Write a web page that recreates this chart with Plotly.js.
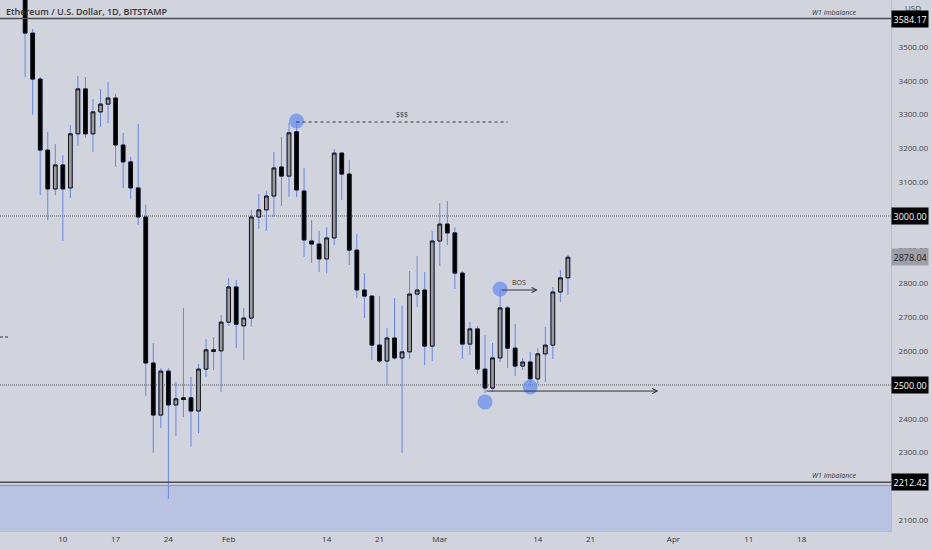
<!DOCTYPE html>
<html>
<head>
<meta charset="utf-8">
<script src="https://cdn.plot.ly/plotly-3.0.1.min.js"></script>
<style>
html,body{margin:0;padding:0;background:#d1d4dc;}
#chart{width:932px;height:550px;}
</style>
</head>
<body>
<div id="chart"></div>
<script>
// ---- Data (ETH/USD daily) ----
const dates = [
 '2022-01-05','2022-01-06','2022-01-07','2022-01-08','2022-01-09','2022-01-10','2022-01-11','2022-01-12','2022-01-13','2022-01-14',
 '2022-01-15','2022-01-16','2022-01-17','2022-01-18','2022-01-19','2022-01-20','2022-01-21','2022-01-22','2022-01-23','2022-01-24',
 '2022-01-25','2022-01-26','2022-01-27','2022-01-28','2022-01-29','2022-01-30','2022-01-31',
 '2022-02-01','2022-02-02','2022-02-03','2022-02-04','2022-02-05','2022-02-06','2022-02-07','2022-02-08','2022-02-09','2022-02-10',
 '2022-02-11','2022-02-12','2022-02-13','2022-02-14','2022-02-15','2022-02-16','2022-02-17','2022-02-18','2022-02-19','2022-02-20',
 '2022-02-21','2022-02-22','2022-02-23','2022-02-24','2022-02-25','2022-02-26','2022-02-27','2022-02-28',
 '2022-03-01','2022-03-02','2022-03-03','2022-03-04','2022-03-05','2022-03-06','2022-03-07','2022-03-08','2022-03-09','2022-03-10',
 '2022-03-11','2022-03-12','2022-03-13','2022-03-14','2022-03-15','2022-03-16','2022-03-17','2022-03-18'
];
const open = [
 3780,3541,3405,3195,3080,3151,3083,3243,3376,3243,3308,3331,3349,3210,3160,3083,2997,2565,2411,2541,2441,2462,2462,2423,2547,2604,2601,
 2686,2790,2675,2698,2997,3018,3059,3145,3118,3249,3074,2926,2917,2873,2935,3186,3124,2899,2781,2763,2618,2571,2639,2580,2598,2769,2781,2615,
 2926,2976,2950,2831,2621,2666,2547,2491,2580,2728,2609,2556,2568,2518,2592,2618,2775,2817
];
const high = [
 3850,3553,3411,3249,3213,3180,3269,3414,3411,3346,3376,3396,3361,3246,3175,3272,3033,2624,2550,2550,2509,2728,2524,2562,2636,2642,2707,
 2817,2811,2728,3018,3065,3074,3189,3234,3275,3281,3142,2988,2956,2967,3198,3189,3166,2947,2831,2765,2763,2669,2757,2734,2837,2882,2834,2956,
 3038,3044,2967,2837,2686,2675,2648,2624,2781,2734,2680,2580,2598,2609,2672,2790,2840,2885
];
const low = [
 3411,3299,3062,2988,3062,2926,3053,3207,3231,3189,3263,3275,3145,3083,3050,2973,2467,2299,2373,2163,2349,2405,2317,2358,2524,2544,2479,
 2675,2609,2574,2672,2962,2956,2997,3030,3056,3056,2879,2861,2834,2831,2914,3047,2855,2757,2698,2574,2565,2500,2575,2299,2577,2731,2559,2571,
 2852,2914,2784,2577,2589,2533,2476,2479,2568,2550,2527,2544,2494,2503,2509,2577,2746,2766
];
const close = [
 3541,3405,3195,3080,3151,3080,3243,3376,3243,3308,3331,3349,3210,3160,3083,2997,2565,2411,2541,2441,2459,2457,2423,2547,2604,2599,2686,
 2790,2680,2698,2997,3018,3059,3142,3118,3246,3077,2929,2917,2873,2935,3186,3124,2899,2781,2763,2618,2571,2639,2580,2598,2769,2781,2615,2926,
 2976,2950,2831,2621,2666,2547,2491,2580,2728,2609,2556,2568,2518,2592,2618,2775,2817,2878.04
];

// axis ticks (3000, 2500 and 2200 are covered by the level price boxes)
const xTickVals  = ['2022-01-10','2022-01-17','2022-01-24','2022-02-01','2022-02-14','2022-02-21','2022-03-01','2022-03-14','2022-03-21','2022-04-01','2022-04-11','2022-04-18'];
const xTickText  = ['10','17','24','Feb','14','21','Mar','14','21','Apr','11','18'];
const yTickVals  = [2100,2300,2400,2600,2700,2800,2900,3100,3200,3300,3400,3500];

// drawn levels / annotations
const w1Top = 3584.17;
const w1Bottom = 2212.42;
const w1BottomInner = 2203;
const roundLevels = [3000, 2500];
const lastPrice = 2878.04;
const liqLevel = 3278, liqStart = '2022-02-10', liqEnd = '2022-03-10', liqLabelX = '2022-02-24';
const bosLevel = 2781, bosStart = '2022-03-09', bosEnd = '2022-03-14', bosLabelX = '2022-03-11 12:00';
const lowLine = 2482, lowStart = '2022-03-07', lowEnd = '2022-03-30';
const swingX = ['2022-02-10','2022-03-07','2022-03-09','2022-03-13'];
const swingY = [3281, 2450, 2784, 2494];
const leftMark = 2642;

const xRange = ['2022-01-01 16:00','2022-04-29 20:30'];
const yRange = [2068, 3639];

// ---- traces ----
const bodyHigh = open.map((o,i)=>Math.max(o,close[i]));
const bodyLow  = open.map((o,i)=>Math.min(o,close[i]));
const wickBlue = '#6286ee';

const wicks = {
  type:'candlestick', x:dates, open:open, high:high, low:low, close:close,
  increasing:{line:{color:wickBlue,width:1}, fillcolor:'rgba(0,0,0,0)'},
  decreasing:{line:{color:wickBlue,width:1}, fillcolor:'rgba(0,0,0,0)'},
  whiskerwidth:0, hoverinfo:'skip', showlegend:false
};
const bodies = {
  type:'candlestick', x:dates, open:open, high:bodyHigh, low:bodyLow, close:close,
  increasing:{line:{color:'#111111',width:1}, fillcolor:'#9b9b9e'},
  decreasing:{line:{color:'#111111',width:1}, fillcolor:'#000000'},
  whiskerwidth:0, hoverinfo:'skip', showlegend:false
};
const swings = {
  type:'scatter', mode:'markers', x:swingX, y:swingY,
  marker:{size:15, color:'rgba(100,140,242,0.72)', line:{width:0}},
  hoverinfo:'skip', showlegend:false, cliponaxis:false
};

// ---- shapes ----
const shapes = [];
shapes.push({type:'rect', xref:'paper', x0:0, x1:1, yref:'y', y0:yRange[0], y1:w1BottomInner, fillcolor:'#b8c3e2', line:{width:0}, layer:'below'});
shapes.push({type:'line', xref:'paper', x0:0, x1:1, yref:'y', y0:w1BottomInner, y1:w1BottomInner, line:{color:'#8c9099', width:1}});
shapes.push({type:'line', xref:'paper', x0:0, x1:1, yref:'y', y0:w1Bottom, y1:w1Bottom, line:{color:'#4a4c52', width:1.5}});
shapes.push({type:'line', xref:'paper', x0:0, x1:1, yref:'y', y0:w1Top, y1:w1Top, line:{color:'#4a4c52', width:1.5}});
roundLevels.forEach(v=>shapes.push({type:'line', xref:'paper', x0:0, x1:1, yref:'y', y0:v, y1:v, line:{color:'#555', width:1, dash:'1px,1px'}, layer:'below'}));
shapes.push({type:'line', xref:'x', x0:liqStart, x1:liqEnd, yref:'y', y0:liqLevel, y1:liqLevel, line:{color:'#333', width:1, dash:'3px,3px'}});
shapes.push({type:'line', xref:'paper', x0:0, x1:0.011, yref:'y', y0:leftMark, y1:leftMark, line:{color:'#333', width:1, dash:'3px,2px'}});

// ---- annotations ----
const ann = [];
const f = 'Open Sans, Liberation Sans, sans-serif';
ann.push({xref:'paper', yref:'paper', x:0, y:1, xanchor:'left', yanchor:'middle', xshift:4, yshift:-11,
  text:'Ethereum / U.S. Dollar, 1D, BITSTAMP', showarrow:false, font:{family:f, size:9, color:'#333', weight:600}});
ann.push({xref:'paper', yref:'paper', x:1, y:1, xanchor:'left', yanchor:'middle', xshift:12, yshift:-7,
  text:'USD', showarrow:false, font:{family:f, size:8, color:'#444'}});
[w1Top, w1Bottom].forEach(v=>ann.push({xref:'paper', yref:'y', x:0.963, y:v, xanchor:'right', yanchor:'bottom', yshift:0,
  text:'W1 imbalance', showarrow:false, font:{family:f, size:7, color:'#333', style:'italic'}}));
[w1Top].concat(roundLevels, [w1Bottom]).forEach(v=>ann.push({xref:'paper', yref:'y', x:1, y:v, xanchor:'left', yanchor:'middle',
  text:v.toFixed(2), showarrow:false, bgcolor:'#000', borderpad:1.5, font:{family:f, size:9, color:'#fff'}}));
ann.push({xref:'paper', yref:'y', x:1, y:lastPrice, xanchor:'left', yanchor:'middle',
  text:lastPrice.toFixed(2), showarrow:false, bgcolor:'#9c9fa6', borderpad:1.5, font:{family:f, size:9, color:'#222'}});
ann.push({xref:'x', yref:'y', x:liqLabelX, y:liqLevel, yanchor:'bottom', yshift:1, text:'$$$', showarrow:false, font:{family:f, size:7, color:'#333'}});
ann.push({xref:'x', yref:'y', x:bosLabelX, y:bosLevel, yanchor:'bottom', yshift:1, text:'BOS', showarrow:false, font:{family:f, size:7, color:'#333'}});
ann.push({xref:'x', yref:'y', x:bosEnd, y:bosLevel, axref:'x', ayref:'y', ax:bosStart, ay:bosLevel, text:'', showarrow:true,
  arrowhead:5, arrowsize:1, arrowwidth:1, arrowcolor:'#333', standoff:0, startstandoff:0});
ann.push({xref:'x', yref:'y', x:lowEnd, y:lowLine, axref:'x', ayref:'y', ax:lowStart, ay:lowLine, text:'', showarrow:true,
  arrowhead:5, arrowsize:1, arrowwidth:1, arrowcolor:'#333', standoff:0, startstandoff:0});

const layout = {
  width:932, height:550,
  margin:{l:0, r:41, t:0, b:19},
  paper_bgcolor:'#d1d4dc', plot_bgcolor:'#d1d4dc',
  showlegend:false, hovermode:false,
  xaxis:{type:'date', range:xRange, tickvals:xTickVals, ticktext:xTickText, showgrid:false, zeroline:false,
    showline:true, linecolor:'#b9bcc4', linewidth:1, ticks:'', rangeslider:{visible:false},
    tickfont:{family:f, size:8, color:'#333'}, fixedrange:true},
  yaxis:{side:'right', range:yRange, tickvals:yTickVals, ticktext:yTickVals.map(v=>v.toFixed(2)), showgrid:false, zeroline:false,
    showline:true, linecolor:'#b9bcc4', linewidth:1, ticks:'', ticklabelstandoff:5,
    tickfont:{family:f, size:8, color:'#444'}, fixedrange:true},
  shapes:shapes, annotations:ann
};

Plotly.newPlot('chart', [wicks, bodies, swings], layout, {displayModeBar:false, staticPlot:true});
</script>
</body>
</html>
